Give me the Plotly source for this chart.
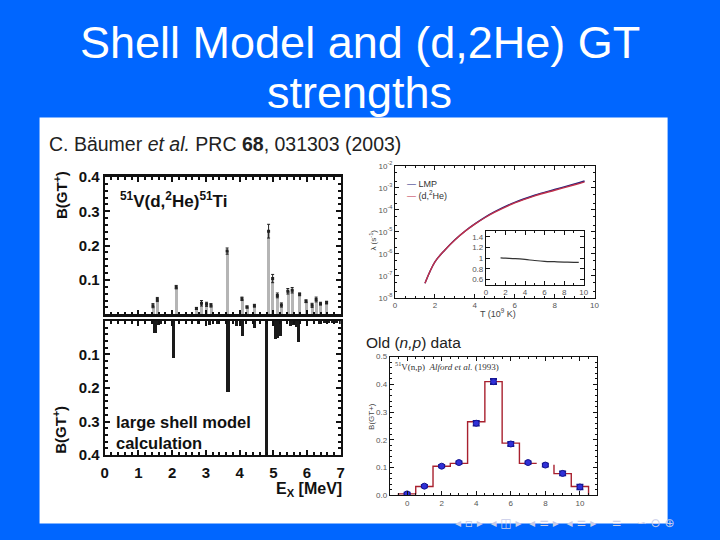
import plotly.graph_objects as go

W, H = 720, 540

# ---------------- data ----------------
# (d,2He) measured B(GT+) (top-left)
dhe_ex = [1.43, 1.56, 2.12, 2.72, 2.87, 3.02, 3.15, 3.63, 4.07, 4.22, 4.44, 4.86,
          4.98, 5.12, 5.24, 5.43, 5.56, 5.78, 5.97, 6.15, 6.27, 6.40, 6.58]
dhe_b = [0.025, 0.043, 0.079, 0.017, 0.032, 0.029, 0.026, 0.184, 0.045, 0.021, 0.025, 0.242,
         0.104, 0.055, 0.027, 0.067, 0.070, 0.058, 0.038, 0.026, 0.043, 0.031, 0.034]
dhe_err = [0.006, 0.006, 0.005, 0.003, 0.008, 0.006, 0.005, 0.009, 0.005, 0.003, 0.004, 0.020,
           0.012, 0.007, 0.006, 0.008, 0.008, 0.004, 0.004, 0.006, 0.007, 0.004, 0.004]

# shell model B(GT+) (bottom-left)
sm_ex = [1.48, 1.58, 1.63, 2.04, 2.78, 3.11, 3.33, 3.65, 3.89, 4.08, 4.43, 4.80, 5.06,
         5.12, 5.19, 5.50, 5.58, 5.67, 5.75, 6.35, 6.50, 6.62, 6.75, 6.86, 6.98]
sm_b = [0.035, 0.012, 0.008, 0.110, 0.010, 0.012, 0.010, 0.210, 0.015, 0.045, 0.020, 0.400, 0.055,
        0.050, 0.045, 0.015, 0.012, 0.018, 0.062, 0.010, 0.006, 0.005, 0.006, 0.005, 0.010]

# stellar electron-capture rates (top-right)
rate_T = [1.5, 2.0, 2.5, 3.0, 3.5, 4.0, 4.5, 5.0, 6.0, 7.0, 8.0, 9.0, 9.5]
rate_dhe = [4.6e-8, 4.3e-7, 1.5e-6, 4.3e-6, 1.05e-5, 2.24e-5, 4.4e-5, 7.9e-5, 2.09e-4,
            4.37e-4, 7.9e-4, 1.4e-3, 1.9e-3]
rate_lmp = [4.6e-8, 4.3e-7, 1.5e-6, 4.35e-6, 1.07e-5, 2.3e-5, 4.6e-5, 8.3e-5, 2.22e-4,
            4.68e-4, 8.5e-4, 1.52e-3, 2.07e-3]
# inset ratio
ratio_T = [1.5, 2.0, 3.0, 4.0, 5.0, 6.0, 7.0, 8.0, 9.0, 9.5]
ratio_v = [1.006, 1.0, 0.99, 0.975, 0.955, 0.94, 0.933, 0.926, 0.922, 0.92]

# old (n,p) data (bottom-right)
np_ex = [0, 1, 2, 3, 4, 5, 6, 7, 8, 9, 10]
np_b = [0.005, 0.033, 0.105, 0.118, 0.260, 0.410, 0.185, 0.118, 0.109, 0.079, 0.030]
np_err = [0.004, 0.004, 0.004, 0.004, 0.008, 0.009, 0.007, 0.004, 0.005, 0.007, 0.008]
hist_bins = [0, 1, 2, 3, 4, 5, 6, 7, 8, 9, 10]
hist_vals = [0.005, 0.032, 0.105, 0.115, 0.265, 0.410, 0.188, 0.115, 0.110, 0.078, 0.032]
hist_hidden = [8]

ticks_left = [0.1, 0.2, 0.3, 0.4]
ticks_ex = [0, 1, 2, 3, 4, 5, 6, 7]
log_ticks = [1e-8, 1e-7, 1e-6, 1e-5, 1e-4, 1e-3, 1e-2]
log_text = ["10<sup>-8</sup>", "10<sup>-7</sup>", "10<sup>-6</sup>", "10<sup>-5</sup>",
            "10<sup>-4</sup>", "10<sup>-3</sup>", "10<sup>-2</sup>"]


def step_path(centers, vals, hidden):
    xs, ys = [], []
    prev = 0.0
    for c, v in zip(centers, vals):
        l, r = c - 0.5, c + 0.5
        if c in hidden:
            xs.append(None); ys.append(None)
            prev = v
            continue
        xs += [l, l, r]
        ys += [prev, v, v]
        prev = v
    xs.append(xs[-1]); ys.append(0)
    return xs, ys


def px(xp):
    return xp / W


def py(yp):
    # screen y (px from top) -> paper fraction, compensating the capture's vertical mapping
    return 1 - ((yp - 3.44) / 0.978) / H


SANS = "Liberation Sans, Arial, sans-serif"
BOLD = dict(family=SANS, size=15, color="#111", weight="bold")
SMALL = dict(family=SANS, size=8, color="#555")

fig = go.Figure()

fig.add_trace(go.Bar(x=dhe_ex, y=dhe_b, width=0.085, marker=dict(color="#b5b5b5", line=dict(width=0)),
                     xaxis="x", yaxis="y", showlegend=False))
fig.add_trace(go.Scatter(x=dhe_ex, y=dhe_b, mode="markers", xaxis="x", yaxis="y", showlegend=False,
                         marker=dict(color="#222", size=3, symbol="square"),
                         error_y=dict(type="data", array=dhe_err, color="#222", thickness=1, width=1.5)))
fig.add_trace(go.Bar(x=sm_ex, y=sm_b, width=0.095, marker=dict(color="#1a1a1a", line=dict(width=0)),
                     xaxis="x2", yaxis="y2", showlegend=False))
fig.add_trace(go.Scatter(x=rate_T, y=rate_lmp, mode="lines", name="LMP", showlegend=False,
                         line=dict(color="#20207a", width=1.4, shape="spline"), xaxis="x3", yaxis="y3"))
fig.add_trace(go.Scatter(x=rate_T, y=rate_dhe, mode="lines", name="(d,<sup>2</sup>He)", showlegend=False,
                         line=dict(color="#c0304a", width=1.4, shape="spline"), xaxis="x3", yaxis="y3"))
fig.add_trace(go.Scatter(x=ratio_T, y=ratio_v, mode="lines", line=dict(color="#333", width=1.2, shape="spline"),
                         xaxis="x4", yaxis="y4", showlegend=False))
hx, hy = step_path(hist_bins, hist_vals, hist_hidden)
fig.add_trace(go.Scatter(x=hx, y=hy, mode="lines", line=dict(color="#a8202e", width=1.4),
                         xaxis="x5", yaxis="y5", showlegend=False, connectgaps=False))
fig.add_trace(go.Scatter(x=np_ex, y=np_b, mode="markers", xaxis="x5", yaxis="y5", showlegend=False,
                         marker=dict(color="#3030d8", size=6, line=dict(color="#151590", width=1)),
                         error_y=dict(type="data", array=np_err, color="#151590", thickness=2, width=3.5)))


def frame(**kw):
    d = dict(showline=True, linecolor="#111", linewidth=1, mirror="allticks", ticks="inside",
             showgrid=False, zeroline=False, tickcolor="#111")
    d.update(kw)
    return d


lx0, lx1 = px(102), px(341)
fig.update_layout(
    width=W, height=H, margin=dict(l=0, r=0, t=0, b=0),
    paper_bgcolor="#0066ff", plot_bgcolor="white",
    bargap=0, barmode="overlay", showlegend=False,
    xaxis=frame(domain=[lx0, lx1], range=[0, 7], anchor="y", dtick=1, showticklabels=False,
                linewidth=2.5, ticklen=5, tickwidth=1.5,
                minor=dict(dtick=0.2, ticks="inside", ticklen=3, tickcolor="#111")),
    yaxis=frame(domain=[py(311.7), py(173)], range=[0, 0.4], anchor="x", tickvals=ticks_left,
                ticktext=[f"{v:.1f}" for v in ticks_left], tickfont=BOLD, linewidth=2,
                ticklen=5, tickwidth=1.5,
                minor=dict(dtick=0.02, ticks="inside", ticklen=3, tickcolor="#111")),
    xaxis2=frame(domain=[lx0, lx1], range=[0, 7], anchor="y2", tickvals=ticks_ex,
                 ticktext=[str(v) for v in ticks_ex], tickfont=BOLD, linewidth=2,
                 ticklen=5, tickwidth=1.5, ticklabelstandoff=3,
                 minor=dict(dtick=0.2, ticks="inside", ticklen=3, tickcolor="#111")),
    yaxis2=frame(domain=[py(454), py(318.3)], range=[0.4, 0], anchor="x2", tickvals=ticks_left,
                 ticktext=[f"{v:.1f}" for v in ticks_left], tickfont=BOLD, linewidth=2,
                 ticklen=5, tickwidth=1.5,
                 minor=dict(dtick=0.02, ticks="inside", ticklen=3, tickcolor="#111")),
    xaxis3=frame(domain=[px(396), px(598)], range=[0, 10], anchor="y3", dtick=2, tickfont=SMALL,
                 ticklen=4, minor=dict(dtick=0.5, ticks="inside", ticklen=2, tickcolor="#111")),
    yaxis3=frame(domain=[py(295), py(162)], type="log", range=[-8, -2], anchor="x3",
                 tickvals=log_ticks, ticktext=log_text, tickfont=SMALL, ticklen=4,
                 minor=dict(ticks="inside", ticklen=2, tickcolor="#111")),
    xaxis4=frame(domain=[px(488), px(587)], range=[0, 10], anchor="y4", dtick=2, tickfont=SMALL,
                 ticklen=4, minor=dict(dtick=1, ticks="inside", ticklen=2, tickcolor="#111")),
    yaxis4=frame(domain=[py(282), py(228)], range=[0.5, 1.5], anchor="x4",
                 tickvals=[0.6, 0.8, 1.0, 1.2, 1.4], ticktext=["0.6", "0.8", "1", "1.2", "1.4"],
                 tickfont=SMALL, ticklen=4),
    xaxis5=frame(domain=[px(390.7), px(600.7)], range=[-1, 11], anchor="y5", dtick=2, tickfont=SMALL,
                 ticklen=4, minor=dict(dtick=0.5, ticks="inside", ticklen=2, tickcolor="#111")),
    yaxis5=frame(domain=[py(494.5), py(354.5)], range=[0, 0.5], anchor="x5", dtick=0.1,
                 tickformat=".1f", tickfont=SMALL, ticklen=4,
                 minor=dict(dtick=0.02, ticks="inside", ticklen=2, tickcolor="#111")),
    shapes=[dict(type="rect", xref="paper", yref="paper", x0=px(36), x1=px(672), y0=py(523), y1=py(113),
                 fillcolor="white", line=dict(width=0), layer="below")],
)

TITLE_FONT = dict(family=SANS, size=45, color="white")
ann = [
    dict(text="Shell Model and (d,2He) GT", x=0.5, y=py(37), xanchor="center", yanchor="middle", font=TITLE_FONT),
    dict(text="strengths", x=0.5, y=py(88), xanchor="center", yanchor="middle", font=TITLE_FONT),
    dict(text="C. Bäumer <i>et al.</i> PRC <b>68</b>, 031303 (2003)", x=px(44), y=py(140),
         xanchor="left", yanchor="middle", font=dict(family=SANS, size=19.5, color="#222")),
    dict(text="<sup>51</sup>V(d,<sup>2</sup>He)<sup>51</sup>Ti", x=px(115), y=py(196),
         xanchor="left", yanchor="middle", font=dict(family=SANS, size=17, color="#111", weight="bold")),
    dict(text="large shell model<br>calculation", x=px(111), y=py(431), xanchor="left", yanchor="middle",
         align="left", font=dict(family=SANS, size=16.5, color="#111", weight="bold")),
    dict(text="E<sub>X</sub> [MeV]", x=px(344), y=py(489), xanchor="right", yanchor="middle",
         font=dict(family=SANS, size=16, color="#111", weight="bold")),
    dict(text="B(GT<sup>+</sup>)", x=px(57), y=py(191), textangle=-90, xanchor="center", yanchor="middle",
         font=dict(family=SANS, size=15, color="#111", weight="bold")),
    dict(text="B(GT<sup>+</sup>)", x=px(56), y=py(428), textangle=-90, xanchor="center", yanchor="middle",
         font=dict(family=SANS, size=15, color="#111", weight="bold")),
    dict(text="<span style='color:#20207a'>—</span> LMP", x=px(406), y=py(180), xanchor="left", yanchor="middle",
         font=dict(family=SANS, size=9, color="#333")),
    dict(text="<span style='color:#c0304a'>—</span> (d,<sup>2</sup>He)", x=px(406), y=py(191), xanchor="left",
         yanchor="middle", font=dict(family=SANS, size=9, color="#333")),
    dict(text="λ (s<sup>-1</sup>)", x=px(374), y=py(237), textangle=-90, xanchor="center", yanchor="middle",
         font=dict(family=SANS, size=8, color="#444")),
    dict(text="T (10<sup>9</sup> K)", x=px(500), y=py(310), xanchor="center", yanchor="middle",
         font=dict(family=SANS, size=9, color="#444")),
    dict(text="Old (<i>n,p</i>) data", x=px(365), y=py(340), xanchor="left", yanchor="middle",
         font=dict(family=SANS, size=15.5, color="#222")),
    dict(text="<sup>51</sup>V(n,p)  <i>Alford et al.</i> (1993)", x=px(394), y=py(364), xanchor="left",
         yanchor="middle", font=dict(family="Liberation Serif, Times New Roman, serif", size=9, color="#333")),
    dict(text="B(GT+)", x=px(372), y=py(415), textangle=-90, xanchor="center", yanchor="middle",
         font=dict(family=SANS, size=8, color="#444")),
    dict(text="◂ ▫ ▸  ◂ ◫ ▸  ◂ ≡ ▸  ◂ ≡ ▸    ≡    ∽ ⊖ ⊕", x=px(455), y=py(522), xanchor="left",
         yanchor="middle", font=dict(family="DejaVu Sans", size=12, color="#c8cce8")),
]
for a in ann:
    a.setdefault("xref", "paper")
    a.setdefault("yref", "paper")
    a.setdefault("showarrow", False)
fig.update_layout(annotations=ann)

fig.write_html("out.html", config=dict(displayModeBar=False),
               post_script="document.body.style.margin='0';document.body.style.overflow='hidden';")
